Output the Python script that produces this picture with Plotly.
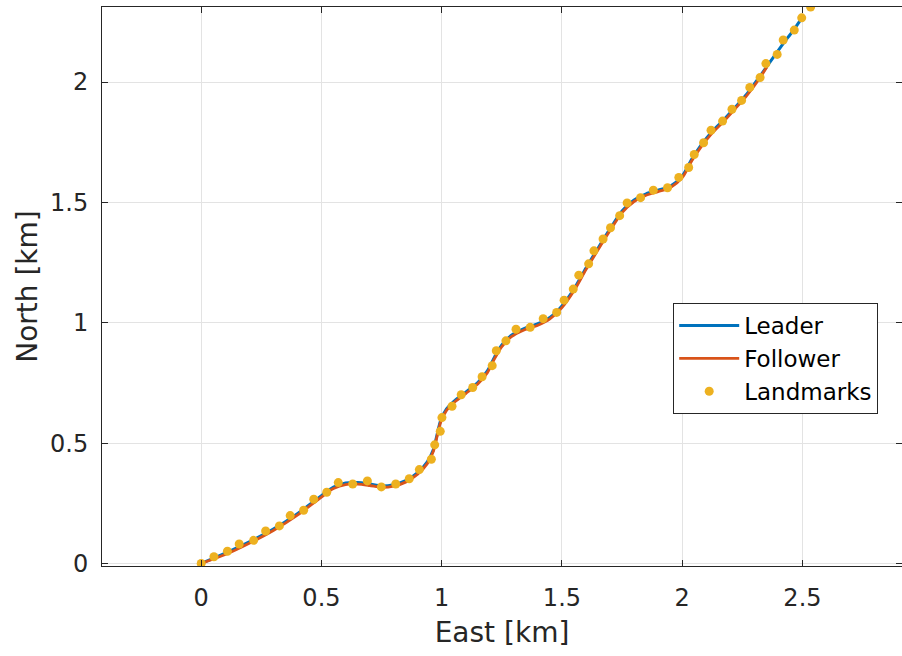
import plotly.graph_objects as go

# Landmarks (km)
land_east = [0.0, 0.053, 0.109, 0.158, 0.218, 0.268, 0.325, 0.370, 0.426, 0.468,
             0.522, 0.570, 0.630, 0.691, 0.749, 0.809, 0.865, 0.907, 0.957, 0.971,
             0.994, 1.001, 1.043, 1.081, 1.129, 1.168, 1.210, 1.227, 1.267, 1.309,
             1.368, 1.422, 1.478, 1.509, 1.547, 1.570, 1.611, 1.633, 1.671, 1.702,
             1.740, 1.771, 1.827, 1.880, 1.939, 1.986, 2.027, 2.050, 2.089, 2.120,
             2.168, 2.207, 2.247, 2.281, 2.324, 2.348, 2.395, 2.420, 2.466, 2.497,
             2.534]
land_north = [0.0, 0.028, 0.051, 0.081, 0.096, 0.135, 0.156, 0.199, 0.221, 0.267,
              0.296, 0.336, 0.330, 0.343, 0.318, 0.330, 0.352, 0.390, 0.433, 0.493,
              0.549, 0.606, 0.653, 0.701, 0.731, 0.776, 0.822, 0.884, 0.925, 0.973,
              0.981, 1.017, 1.043, 1.094, 1.140, 1.198, 1.245, 1.299, 1.348, 1.395,
              1.445, 1.498, 1.520, 1.551, 1.561, 1.604, 1.645, 1.699, 1.748, 1.800,
              1.838, 1.887, 1.924, 1.978, 2.019, 2.077, 2.115, 2.175, 2.216, 2.267,
              2.312]

# Leader trajectory (km)
leader_east = [0.0, 0.10, 0.20, 0.30, 0.40, 0.50, 0.55, 0.60, 0.65, 0.70, 0.75,
               0.80, 0.85, 0.90, 0.94, 0.965, 0.98, 0.995, 1.02, 1.06, 1.10, 1.15,
               1.19, 1.22, 1.25, 1.29, 1.34, 1.40, 1.45, 1.50, 1.55, 1.60, 1.65,
               1.70, 1.75, 1.80, 1.85, 1.90, 1.95, 2.00, 2.04, 2.08, 2.12, 2.17,
               2.22, 2.27, 2.32, 2.37, 2.42, 2.46, 2.498]
leader_north = [0.0, 0.043, 0.090, 0.143, 0.207, 0.282, 0.317, 0.334, 0.336, 0.330,
                0.322, 0.327, 0.344, 0.377, 0.422, 0.472, 0.532, 0.592, 0.642, 0.682,
                0.712, 0.752, 0.800, 0.858, 0.908, 0.948, 0.975, 0.996, 1.022, 1.070,
                1.140, 1.228, 1.310, 1.390, 1.465, 1.510, 1.536, 1.551, 1.567, 1.610,
                1.680, 1.740, 1.790, 1.840, 1.895, 1.952, 2.020, 2.090, 2.160, 2.212,
                2.267]

# Follower trajectory (km)
follower_east = [0.0, 0.10, 0.20, 0.30, 0.40, 0.50, 0.55, 0.60, 0.65, 0.70, 0.75,
                 0.80, 0.85, 0.90, 0.94, 0.965, 0.98, 0.995, 1.02, 1.06, 1.10, 1.15,
                 1.19, 1.22, 1.25, 1.29, 1.34, 1.40, 1.45, 1.50, 1.55, 1.60, 1.65,
                 1.70, 1.75, 1.80, 1.85, 1.90, 1.95, 2.00, 2.04, 2.08, 2.12, 2.17,
                 2.22, 2.27, 2.32, 2.352]
follower_north = [0.0, 0.037, 0.084, 0.137, 0.201, 0.276, 0.311, 0.328, 0.330, 0.324,
                  0.316, 0.321, 0.338, 0.371, 0.415, 0.465, 0.525, 0.585, 0.636, 0.676,
                  0.706, 0.746, 0.793, 0.851, 0.901, 0.942, 0.969, 0.990, 1.016, 1.063,
                  1.133, 1.221, 1.303, 1.383, 1.458, 1.504, 1.530, 1.545, 1.561, 1.603,
                  1.673, 1.733, 1.783, 1.834, 1.889, 1.946, 2.013, 2.063]

BLUE = "#0072BD"
ORANGE = "#D95319"
YELLOW = "#EDB120"
AX = "#262626"
GRID = "#e3e3e3"
FONT = "DejaVu Sans"

fig = go.Figure()
fig.add_trace(go.Scatter(x=leader_east, y=leader_north, mode="lines", name="Leader",
                         line=dict(color=BLUE, width=3, shape="spline", smoothing=0.8)))
fig.add_trace(go.Scatter(x=follower_east, y=follower_north, mode="lines", name="Follower",
                         line=dict(color=ORANGE, width=2.8, shape="spline", smoothing=0.8)))
fig.add_trace(go.Scatter(x=land_east, y=land_north, mode="markers", name="Landmarks",
                         marker=dict(color=YELLOW, size=9, line=dict(width=0))))

axis_common = dict(showline=True, linecolor=AX, linewidth=1, mirror="ticks",
                   ticks="inside", ticklen=6, tickcolor=AX, tickwidth=1,
                   showgrid=True, gridcolor=GRID, gridwidth=1, zeroline=False,
                   tickfont=dict(family=FONT, size=24, color=AX))

fig.update_xaxes(range=[-0.4125, 2.914], tickvals=[0, 0.5, 1, 1.5, 2, 2.5],
                 ticktext=["0", "0.5", "1", "1.5", "2", "2.5"],
                 title=dict(text="East [km]", font=dict(family=FONT, size=28, color=AX), standoff=11),
                 ticklabelstandoff=10, **axis_common)
fig.update_yaxes(range=[-0.0105, 2.312], tickvals=[0, 0.5, 1, 1.5, 2],
                 ticktext=["0", "0.5", "1", "1.5", "2"],
                 title=dict(text="North [km]", font=dict(family=FONT, size=28, color=AX), standoff=4),
                 ticklabelstandoff=8, **axis_common)

fig.update_layout(
    width=902, height=656,
    margin=dict(l=102, r=0, t=7, b=90, autoexpand=False),
    plot_bgcolor="white", paper_bgcolor="white",
    font=dict(family=FONT, color=AX),
    legend=dict(x=0.714, y=0.4705, xanchor="left", yanchor="top",
                bgcolor="white", bordercolor=AX, borderwidth=1,
                font=dict(family=FONT, size=23, color="black"),
                tracegroupgap=0, itemwidth=60),
    showlegend=True,
)

fig.write_html("out.html")
